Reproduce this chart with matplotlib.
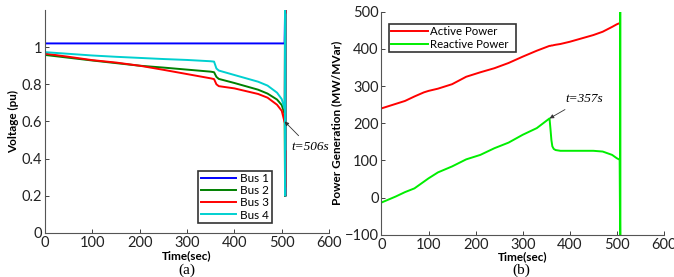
import matplotlib
matplotlib.use("Agg")
import matplotlib.pyplot as plt
import numpy as np

# ---- Data: panel (a) voltages ----
t_v = [0, 50, 100, 150, 200, 250, 300, 350, 357, 362, 367, 400, 450, 470, 490, 500, 506]
bus1 = [1.02]*17
bus2 = [0.958, 0.943, 0.928, 0.914, 0.900, 0.890, 0.879, 0.868, 0.865, 0.840, 0.829, 0.807, 0.771, 0.750, 0.718, 0.688, 0.640]
bus3 = [0.965, 0.948, 0.930, 0.917, 0.900, 0.878, 0.855, 0.832, 0.828, 0.800, 0.790, 0.778, 0.748, 0.728, 0.690, 0.657, 0.596]
bus4 = [0.973, 0.964, 0.955, 0.948, 0.942, 0.936, 0.931, 0.924, 0.922, 0.885, 0.874, 0.850, 0.814, 0.793, 0.755, 0.720, 0.667]
# collapse oscillation after t=506
t_osc = [507, 507.2, 507.4, 507.6]
bus1_osc = [1.2, 0.2, 1.2, 0.2]
bus2_osc = [0.2, 1.2, 0.2, 0.2]
bus3_osc = [1.2, 0.2, 1.2, 0.25]
bus4_osc = [1.2, 0.2, 1.18, 0.45]

# ---- Data: panel (b) power ----
t_p = [0, 30, 50, 70, 90, 100, 120, 150, 180, 210, 240, 270, 300, 330, 357, 359, 361, 363, 366, 370, 380, 400, 450, 470, 490, 500, 506]
active = [240, 252, 260, 272, 283, 287, 293, 305, 325, 337, 348, 362, 379, 395, 408, 408, 409, 409, 410, 411, 413, 419, 437, 446, 459, 466, 469]
reactive = [-13, 3, 15, 25, 43, 52, 68, 84, 103, 115, 133, 148, 169, 187, 213, 185, 155, 138, 131, 128, 126, 126, 126, 124, 115, 106, 102]
t_spike = [507, 507.2, 507.4]
reactive_spike = [-100, 500, -100]

fig = plt.figure(figsize=(6.74, 2.77), dpi=100)
plt.rcParams['font.family'] = ['Lato', 'DejaVu Sans']

def style(ax):
    for s in ['top', 'right']:
        ax.spines[s].set_visible(False)
    for s in ['left', 'bottom']:
        ax.spines[s].set_color('#555555')
        ax.spines[s].set_linewidth(0.8)
    ax.tick_params(direction='in', length=3, width=0.6, colors='#222222', labelsize=10.5, pad=2)
    ax.set_xlim(0, 600)
    ax.set_xticks([0, 100, 200, 300, 400, 500, 600])

# Panel (a)
ax1 = fig.add_axes([0.0668, 0.159, 0.4215, 0.805])
style(ax1)
lw = 1.4
ax1.plot(t_v + t_osc, bus1 + bus1_osc, color='#0000ff', lw=lw, label='Bus 1')
ax1.plot(t_v + t_osc, bus2 + bus2_osc, color='#008000', lw=lw, label='Bus 2')
ax1.plot(t_v + t_osc, bus3 + bus3_osc, color='#ff0000', lw=lw, label='Bus 3')
ax1.plot(t_v + t_osc, bus4 + bus4_osc, color='#00d0d0', lw=lw, label='Bus 4')
ax1.set_ylim(0, 1.2)
ax1.set_yticks([0, 0.2, 0.4, 0.6, 0.8, 1.0])
ax1.set_yticklabels(['0', '0.2', '0.4', '0.6', '0.8', '1'])
ax1.set_xlabel('Time(sec)', fontsize=8.5, fontweight='bold', labelpad=0)
ax1.set_ylabel('Voltage (pu)', fontsize=8.5, fontweight='bold', labelpad=2)
leg1 = ax1.legend(loc='lower left', bbox_to_anchor=(0.54, 0.045, 0.26, 0.27), mode='expand',
                  fontsize=8.5, frameon=True, fancybox=False, edgecolor='black',
                  borderpad=0.2, labelspacing=0.1, handlelength=3.0, handletextpad=0.3, borderaxespad=0)
leg1.get_frame().set_linewidth(1.2)
ax1.annotate('t=506s', xy=(506, 0.60), xytext=(560, 0.46), fontsize=9.5, fontstyle='italic',
             family='Liberation Serif', ha='center', va='center',
             arrowprops=dict(arrowstyle='-|>', color='#333333', lw=0.6, mutation_scale=6,
                             shrinkA=3, shrinkB=0))
fig.text(0.278, 0.025, '(a)', fontsize=11, family='Liberation Serif', ha='center', va='center')

# Panel (b)
ax2 = fig.add_axes([0.566, 0.152, 0.419, 0.806])
style(ax2)
ax2.plot(t_p, active, color='#ff0000', lw=lw, label='Active Power')
ax2.plot(t_p + t_spike, reactive + reactive_spike, color='#00ee00', lw=lw, label='Reactive Power')
ax2.set_ylim(-100, 500)
ax2.set_yticks([-100, 0, 100, 200, 300, 400, 500])
ax2.set_xlabel('Time(sec)', fontsize=8.5, fontweight='bold', labelpad=0)
ax2.set_ylabel('Power Generation (MW/MVar)', fontsize=8.5, fontweight='bold', labelpad=2)
leg2 = ax2.legend(loc='lower left', bbox_to_anchor=(0.026, 0.82, 0.452, 0.153), mode='expand',
                  fontsize=8.2, frameon=True, fancybox=False, edgecolor='black',
                  borderpad=0.2, labelspacing=0.1, handlelength=3.2, handletextpad=0.2, borderaxespad=0)
leg2.get_frame().set_linewidth(1.2)
ax2.annotate('t=357s', xy=(357, 213), xytext=(430, 266), fontsize=9.5, fontstyle='italic',
             family='Liberation Serif', ha='center', va='center',
             arrowprops=dict(arrowstyle='-|>', color='#333333', lw=0.6, mutation_scale=6,
                             shrinkA=3, shrinkB=0))
fig.text(0.773, 0.025, '(b)', fontsize=11, family='Liberation Serif', ha='center', va='center')

fig.savefig('out.png', dpi=100)
